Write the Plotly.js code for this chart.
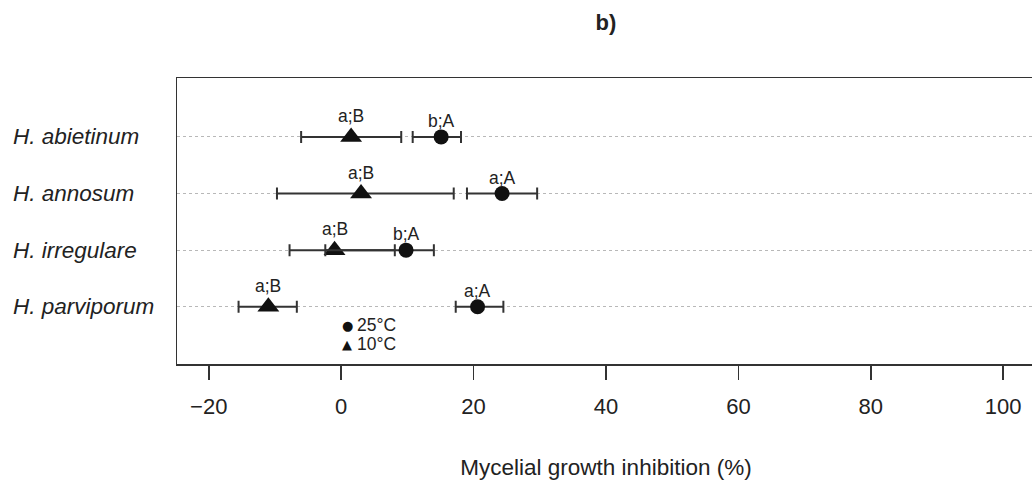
<!DOCTYPE html>
<html>
<head>
<meta charset="utf-8">
<script src="https://cdn.plot.ly/plotly-3.0.1.min.js"></script>
<style>
html,body{margin:0;padding:0;overflow:hidden;background:#fff;width:1032px;height:483px;}
#chart{width:1040px;height:483px;}
</style>
</head>
<body>
<div id="chart"></div>
<script>
// ---- data ----
const species = ["H. abietinum", "H. annosum", "H. irregulare", "H. parviporum"];
const temp25Mean  = [15.1, 24.3, 9.8, 20.6];
const temp25Lower = [10.8, 19.0, -2.4, 17.3];
const temp25Upper = [18.1, 29.6, 14.0, 24.5];
const temp25Labels = ["b;A", "a;A", "b;A", "a;A"];
const temp10Mean  = [1.5, 3.0, -1.0, -11.0];
const temp10Lower = [-6.05, -9.7, -7.8, -15.5];
const temp10Upper = [9.07, 17.0, 8.1, -6.7];
const temp10Labels = ["a;B", "a;B", "a;B", "a;B"];
const seriesNames = ["25°C", "10°C"];
const xTicks = [-20, 0, 20, 40, 60, 80, 100];

const FONT = "Liberation Sans, Arial, Helvetica, sans-serif";
const INK = "#222";
const BAR = "#333";

function errTrace(mean, lower, upper, symbol, size, name) {
  return {
    type: "scatter", mode: "markers", name: name,
    x: mean, y: species,
    marker: {symbol: symbol, size: size, color: "#111", line: {width: 0}},
    error_x: {
      type: "data", symmetric: false,
      array: mean.map((m, i) => upper[i] - m),
      arrayminus: mean.map((m, i) => m - lower[i]),
      color: BAR, thickness: 2, width: 6
    },
    cliponaxis: false, hoverinfo: "skip", showlegend: false
  };
}

const traces = [
  errTrace(temp10Mean, temp10Lower, temp10Upper, "triangle-up", 19, seriesNames[1]),
  errTrace(temp25Mean, temp25Lower, temp25Upper, "circle", 15, seriesNames[0])
];

const annotations = [];
species.forEach((s, i) => {
  annotations.push({x: temp10Mean[i], y: s, xref: "x", yref: "y", xanchor: "center", yanchor: "middle",
    text: temp10Labels[i], showarrow: false, yshift: 21, font: {family: FONT, size: 17.5, color: INK}});
  annotations.push({x: temp25Mean[i], y: s, xref: "x", yref: "y", xanchor: "center", yanchor: "middle",
    text: temp25Labels[i], showarrow: false, yshift: 16, font: {family: FONT, size: 17.5, color: INK}});
  annotations.push({x: -0.1935, y: s, xref: "paper", yref: "y", xanchor: "left", yanchor: "middle",
    text: "<i>" + s + "</i>", showarrow: false, font: {family: FONT, size: 22.5, color: INK}});
});
// legend
const legendGlyphs = ["●", "▲"];
const legendY = [0.136, 0.069];
seriesNames.forEach((n, i) => {
  annotations.push({x: 0.1985, y: legendY[i], xref: "paper", yref: "paper", xanchor: "center", yanchor: "middle",
    text: legendGlyphs[i], showarrow: false, font: {family: "DejaVu Sans", size: 13, color: "#111"}});
  annotations.push({x: 0.2075, y: legendY[i], xref: "paper", yref: "paper", xanchor: "left", yanchor: "middle",
    text: n, showarrow: false, font: {family: FONT, size: 17.5, color: INK}});
});

const layout = {
  width: 1040, height: 483,
  margin: {l: 177, r: 5, t: 78, b: 119},
  paper_bgcolor: "#fff", plot_bgcolor: "#fff",
  font: {family: FONT, color: INK},
  title: {text: "<b>b)</b>", x: 0.5, xref: "paper", xanchor: "center",
    y: 0.954, yref: "container", yanchor: "middle",
    font: {family: FONT, size: 22, color: INK}},
  xaxis: {
    range: [-24.8, 104.8], tickvals: xTicks, ticktext: xTicks.map(v => v < 0 ? "\u2212" + Math.abs(v) : String(v)),
    ticks: "outside", ticklen: 14, tickwidth: 1.5, tickcolor: BAR, ticklabelstandoff: 8,
    tickfont: {family: FONT, size: 22, color: INK},
    showgrid: false, zeroline: false,
    showline: true, linecolor: BAR, linewidth: 1.5, mirror: true,
    title: {text: "Mycelial growth inhibition (%)", standoff: 41, font: {family: FONT, size: 22.5, color: INK}}
  },
  yaxis: {
    type: "category", categoryorder: "array", categoryarray: species.slice().reverse(),
    range: [-1.01, 4.04], showticklabels: false, ticks: "",
    showgrid: true, gridcolor: "#b8b8b8", gridwidth: 1, griddash: "dot",
    zeroline: false, showline: true, linecolor: BAR, linewidth: 1.5, mirror: true
  },
  annotations: annotations,
  showlegend: false
};

Plotly.newPlot("chart", traces, layout, {displayModeBar: false, staticPlot: true});
</script>
</body>
</html>
